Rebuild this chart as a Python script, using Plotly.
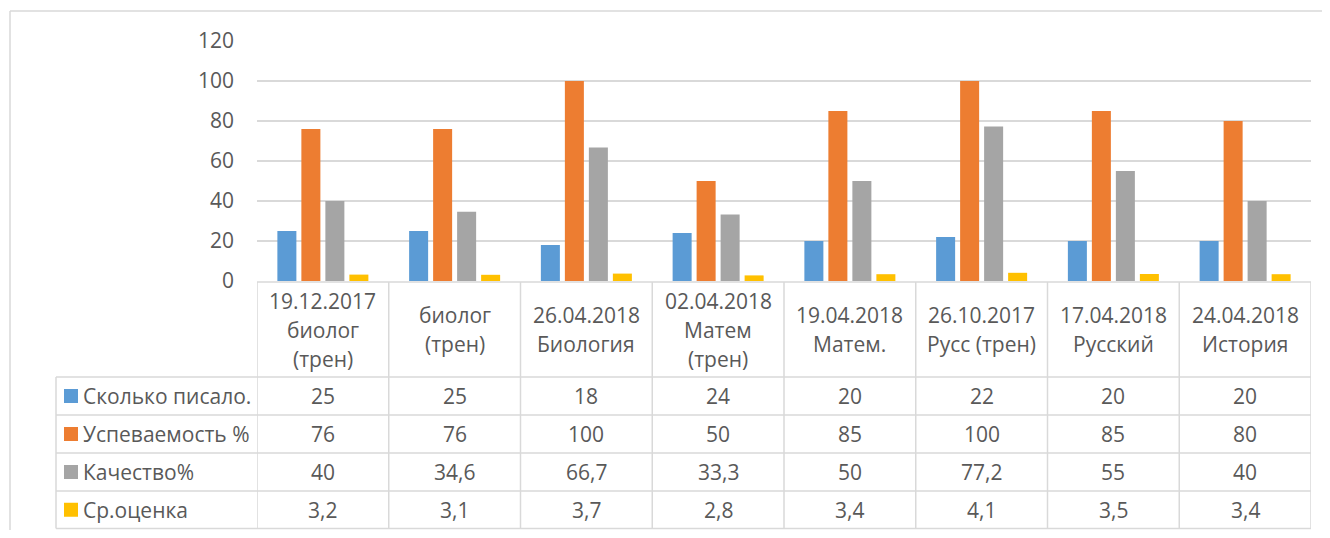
import plotly.graph_objects as go

# ---- data ----
categories = [
    "19.12.2017<br>биолог<br>(трен)",
    "биолог<br>(трен)",
    "26.04.2018<br>Биология",
    "02.04.2018<br>Матем<br>(трен)",
    "19.04.2018<br>Матем.",
    "26.10.2017<br>Русс (трен)",
    "17.04.2018<br>Русский",
    "24.04.2018<br>История",
]
series_names = ["Сколько писало.", "Успеваемость %", "Качество%", "Ср.оценка"]
s_count = [25, 25, 18, 24, 20, 22, 20, 20]
s_success = [76, 76, 100, 50, 85, 100, 85, 80]
s_quality = [40, 34.6, 66.7, 33.3, 50, 77.2, 55, 40]
s_avg = [3.2, 3.1, 3.7, 2.8, 3.4, 4.1, 3.5, 3.4]
y_ticks = [0, 20, 40, 60, 80, 100, 120]

series_values = [s_count, s_success, s_quality, s_avg]
colors = ["#5B9BD5", "#ED7D31", "#A5A5A5", "#FFC000"]

# the page body adds an 8px margin on every side; keep the figure inside the window
OFF = 8
W, H = 1330 - 2 * OFF, 538 - 2 * OFF
FONT = "Open Sans"
TXT = "#595959"
GRID = "#D9D9D9"
FS = 21


def xp(px):
    return (px - OFF) / W


def yp(py):
    return 1 - (py - OFF) / H


def fmt(v):
    if float(v).is_integer():
        return str(int(v))
    return str(v).replace(".", ",")


n = len(categories)
xidx = list(range(n))

fig = go.Figure()
for name, vals, col in zip(series_names, series_values, colors):
    fig.add_trace(go.Bar(x=xidx, y=vals, name=name, marker=dict(color=col, line=dict(width=0)),
                         showlegend=False))

shapes = []
annotations = []

line_style = dict(color=GRID, width=1.5)

# outer chart border (top and left)
shapes.append(dict(type="line", xref="paper", yref="paper", x0=xp(10), x1=1.0, y0=yp(11), y1=yp(11), line=line_style))
shapes.append(dict(type="line", xref="paper", yref="paper", x0=xp(10), x1=xp(10), y0=yp(11), y1=0.0, line=line_style))

# table geometry (pixels)
top_y = 282
row_lines = [377, 415, 453, 491, 528.5]
left_x = 56

# axis line / header top
shapes.append(dict(type="line", xref="x", yref="paper", x0=-0.5, x1=n - 0.5, y0=yp(top_y), y1=yp(top_y), line=line_style))
# horizontal row lines
for ry in row_lines:
    shapes.append(dict(type="line", xref="paper", yref="paper", x0=xp(left_x), x1=xp(1311), y0=yp(ry), y1=yp(ry), line=line_style))
# vertical column lines
for i in range(n + 1):
    shapes.append(dict(type="line", xref="x", yref="paper", x0=i - 0.5, x1=i - 0.5, y0=yp(top_y), y1=yp(row_lines[-1]), line=line_style))
# left column line
shapes.append(dict(type="line", xref="paper", yref="paper", x0=xp(left_x), x1=xp(left_x), y0=yp(row_lines[0]), y1=yp(row_lines[-1]), line=line_style))

# header labels
head_center = (top_y + row_lines[0]) / 2
spacing = 29
for i, cat in enumerate(categories):
    lines = cat.split("<br>")
    k = len(lines)
    for j, ln in enumerate(lines):
        cy = head_center + (j - (k - 1) / 2) * spacing
        annotations.append(dict(x=i, y=yp(cy), xref="x", yref="paper", text=ln, showarrow=False,
                                xanchor="center", yanchor="middle",
                                font=dict(family=FONT, size=FS, color=TXT)))

# data rows
for r, (name, vals, col) in enumerate(zip(series_names, series_values, colors)):
    cy = (row_lines[r] + row_lines[r + 1]) / 2
    # legend key
    shapes.append(dict(type="rect", xref="paper", yref="paper", x0=xp(64), x1=xp(78), y0=yp(cy - 7), y1=yp(cy + 7),
                       fillcolor=col, line=dict(width=0)))
    annotations.append(dict(x=xp(81), y=yp(cy), xref="paper", yref="paper", text=name, showarrow=False,
                            xanchor="left", yanchor="middle", font=dict(family=FONT, size=FS, color=TXT)))
    for i, v in enumerate(vals):
        annotations.append(dict(x=i, y=yp(cy), xref="x", yref="paper", text=fmt(v), showarrow=False,
                                xanchor="center", yanchor="middle", font=dict(family=FONT, size=FS, color=TXT)))

fig.update_layout(
    template="none",
    width=W, height=H,
    margin=dict(l=0, r=0, t=0, b=0, pad=0),
    paper_bgcolor="white", plot_bgcolor="white",
    barmode="group", bargap=0.2714, bargroupgap=0.208,
    font=dict(family=FONT, color=TXT, size=FS),
    xaxis=dict(domain=[xp(257), xp(1311)], type="linear", range=[-0.5, n - 0.5], automargin=False,
               showticklabels=False, showgrid=False, zeroline=False, showline=False, ticks=""),
    yaxis=dict(domain=[yp(281), yp(41)], range=[0, 120], tickvals=y_ticks, automargin=False,
               showgrid=True, gridcolor=GRID, gridwidth=1.5, zeroline=False, showline=False,
               ticks="", ticklabelstandoff=22, tickfont=dict(family=FONT, size=FS, color=TXT)),
    shapes=shapes, annotations=annotations,
    showlegend=False,
)

fig.write_html("out.html", config={"displayModeBar": False})
